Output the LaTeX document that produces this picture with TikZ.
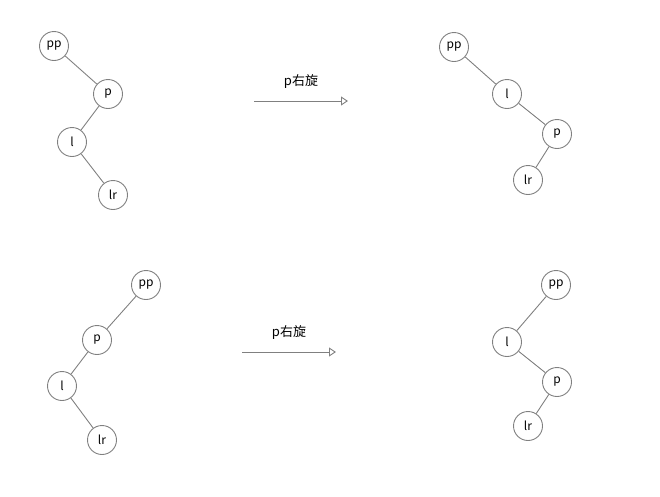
\documentclass[tikz,border=0pt]{standalone}
\usepackage{fontspec}
\setmainfont{Noto Sans CJK SC}
\usetikzlibrary{arrows.meta}
\definecolor{linegray}{HTML}{808080}
\begin{document}
\begin{tikzpicture}[x=1pt,y=-1pt,
  tnode/.style={circle,draw=linegray,line width=0.9pt,minimum size=29pt,inner sep=0pt,font=\fontsize{12}{12}\selectfont,text=black,fill=white},
  tedge/.style={draw=linegray,line width=0.9pt},
  rotarrow/.style={draw=linegray,line width=0.9pt,-{Triangle[open,length=7pt,width=9pt]}},
  lbl/.style={font=\fontsize{13}{13}\selectfont,text=black,inner sep=0pt}]
\useasboundingbox (0,0) rectangle (660,496);
% top-left tree
\node[tnode] (a1) at (54,46) {pp};
\node[tnode] (a2) at (108,94) {p};
\node[tnode] (a3) at (72,142) {l};
\node[tnode] (a4) at (113,195) {lr};
\draw[tedge] (a1) -- (a2);
\draw[tedge] (a2) -- (a3);
\draw[tedge] (a3) -- (a4);
% top arrow
\coordinate (s1) at (254,101);
\coordinate (e1) at (348,101);
\draw[rotarrow] (s1) -- (e1);
\node[lbl] (t1) at (301,82) {p右旋};
% top-right tree
\node[tnode] (b1) at (454,47) {pp};
\node[tnode] (b2) at (507,94) {l};
\node[tnode] (b3) at (557,134) {p};
\node[tnode] (b4) at (528,180) {lr};
\draw[tedge] (b1) -- (b2);
\draw[tedge] (b2) -- (b3);
\draw[tedge] (b3) -- (b4);
% bottom-left tree
\node[tnode] (c1) at (146,285) {pp};
\node[tnode] (c2) at (97,340) {p};
\node[tnode] (c3) at (62,386) {l};
\node[tnode] (c4) at (102,440) {lr};
\draw[tedge] (c1) -- (c2);
\draw[tedge] (c2) -- (c3);
\draw[tedge] (c3) -- (c4);
% bottom arrow
\coordinate (s2) at (242,352);
\coordinate (e2) at (336,352);
\draw[rotarrow] (s2) -- (e2);
\node[lbl] (t2) at (289,333) {p右旋};
% bottom-right tree
\node[tnode] (d1) at (556,285) {pp};
\node[tnode] (d2) at (507,342) {l};
\node[tnode] (d3) at (557,382) {p};
\node[tnode] (d4) at (528,426) {lr};
\draw[tedge] (d1) -- (d2);
\draw[tedge] (d2) -- (d3);
\draw[tedge] (d3) -- (d4);
\end{tikzpicture}
\end{document}
